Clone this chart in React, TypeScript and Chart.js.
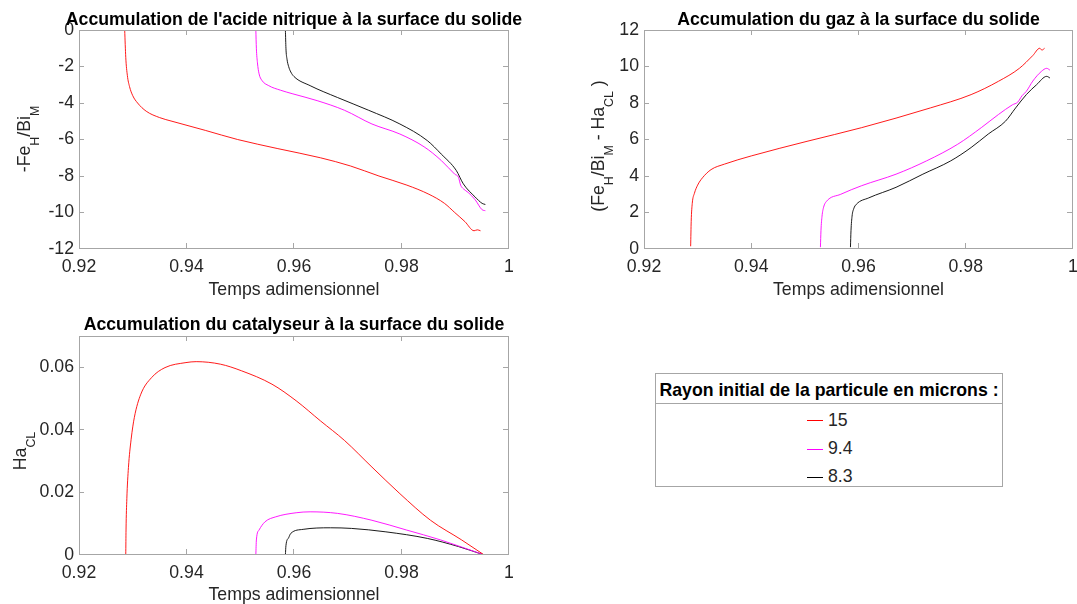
import React, { useEffect, useRef } from 'react';
import { Chart, registerables } from 'chart.js';

Chart.register(...registerables);

const FONT = '"Liberation Sans", Arial, Helvetica, sans-serif';
const FS = 17.7;
const SUB_FS = 12.4;
const SUB_SHIFT = 8.5;
const TEXT_COLOR = '#262626';
const BOX_COLOR = '#a6a6a6';
const TICK_LEN = 5;

// ---- series identity ----
const seriesLabels = ['15', '9.4', '8.3'];
const seriesColors = ['#ff0000', '#ff00ff', '#000000'];
const legendTitle = 'Rayon initial de la particule en microns :';

// ---- tick labels ----
const timeTicks = [0.92, 0.94, 0.96, 0.98, 1];
const acidTicks = [-12, -10, -8, -6, -4, -2, 0];
const gasTicks = [0, 2, 4, 6, 8, 10, 12];
const catTicks = [0, 0.02, 0.04, 0.06];

// ---- acid (-Fe_H/Bi_M) ----
const acidT15 = [0.9285, 0.9287, 0.929, 0.9294, 0.93, 0.9309, 0.9325, 0.935, 0.9373, 0.9435, 0.9495, 0.957, 0.9649, 0.9705, 0.9758, 0.981, 0.9851, 0.988, 0.9899, 0.9918, 0.9935, 0.9941, 0.9947];
const acidY15 = [0, -1.5, -2.5, -3.1, -3.6, -4.0, -4.45, -4.8, -5.0, -5.5, -6.0, -6.5, -7.0, -7.45, -8.0, -8.5, -9.0, -9.5, -10.0, -10.5, -11.0, -10.95, -11.0];
const acidT94 = [0.9529, 0.953, 0.9532, 0.9535, 0.954, 0.9553, 0.9575, 0.9598, 0.9643, 0.9694, 0.9745, 0.9797, 0.9842, 0.9874, 0.9899, 0.9906, 0.991, 0.9915, 0.9924, 0.9937, 0.995, 0.9956];
const acidY94 = [0, -1.0, -1.8, -2.4, -2.75, -3.05, -3.3, -3.5, -3.87, -4.4, -5.15, -5.7, -6.4, -7.15, -7.9, -8.07, -8.5, -8.7, -8.9, -9.3, -9.85, -9.9];
const acidT83 = [0.9584, 0.9585, 0.9587, 0.959, 0.9594, 0.96, 0.963, 0.9681, 0.9739, 0.9797, 0.9848, 0.9874, 0.9902, 0.9915, 0.9937, 0.995, 0.9956];
const acidY83 = [0, -1.0, -1.6, -2.0, -2.3, -2.55, -3.05, -3.7, -4.4, -5.15, -6.06, -6.8, -7.7, -8.43, -9.15, -9.5, -9.56];

// ---- gas (Fe_H/Bi_M - Ha_CL) ----
const gasT15 = [0.9287, 0.9288, 0.929, 0.9294, 0.93, 0.9309, 0.9325, 0.935, 0.94, 0.9504, 0.9606, 0.9734, 0.981, 0.9861, 0.99, 0.9925, 0.9938, 0.9942, 0.9947];
const gasY15 = [0.15, 1.5, 2.5, 3.05, 3.5, 3.9, 4.35, 4.65, 5.1, 5.9, 6.65, 7.73, 8.46, 9.19, 9.9, 10.6, 11.0, 10.9, 11.0];
const gasT94 = [0.9529, 0.953, 0.9532, 0.9535, 0.954, 0.9567, 0.9606, 0.967, 0.9727, 0.9785, 0.9829, 0.9861, 0.9887, 0.9897, 0.9905, 0.9913, 0.9925, 0.9941, 0.9951, 0.9957];
const gasY94 = [0.1, 1.0, 1.8, 2.3, 2.6, 3.0, 3.47, 4.1, 4.83, 5.74, 6.65, 7.37, 7.9, 8.05, 8.4, 8.64, 9.2, 9.73, 9.9, 9.8];
const gasT83 = [0.9585, 0.9586, 0.9588, 0.9591, 0.9596, 0.9619, 0.967, 0.972, 0.9772, 0.981, 0.9842, 0.9874, 0.9893, 0.9913, 0.9932, 0.9951, 0.9957];
const gasY83 = [0.1, 1.0, 1.8, 2.2, 2.45, 2.8, 3.38, 4.1, 4.83, 5.56, 6.3, 7.0, 7.73, 8.46, 9.0, 9.46, 9.37];

// ---- catalyst (Ha_CL) ----
const catT15 = [0.9287, 0.92875, 0.9289, 0.9292, 0.9297, 0.9303, 0.9315, 0.9335, 0.936, 0.9399, 0.9418, 0.9463, 0.9502, 0.9559, 0.9604, 0.9649, 0.9694, 0.9745, 0.9797, 0.9854, 0.9912, 0.9954];
const catY15 = [0, 0.008, 0.018, 0.028, 0.037, 0.044, 0.0514, 0.0567, 0.0599, 0.0615, 0.0618, 0.061, 0.0589, 0.0546, 0.0493, 0.0429, 0.0366, 0.0281, 0.0196, 0.0111, 0.0048, 0];
const catT94 = [0.9529, 0.953, 0.9535, 0.9546, 0.9566, 0.9604, 0.963, 0.9681, 0.9745, 0.9809, 0.9873, 0.9954];
const catY94 = [0, 0.0048, 0.008, 0.0106, 0.0122, 0.0135, 0.0138, 0.0133, 0.0111, 0.008, 0.0048, 0];
const catT83 = [0.9584, 0.9585, 0.959, 0.9594, 0.9617, 0.9668, 0.9707, 0.9771, 0.9848, 0.9906, 0.9954];
const catY83 = [0, 0.003, 0.0055, 0.0069, 0.0082, 0.0087, 0.0085, 0.0074, 0.0053, 0.0027, 0];

type Seg = [string, number];

const fmt = (v: number) => String(parseFloat(Number(v).toFixed(3)));

const zip = (t: number[], y: number[]) => t.map((x, i) => ({ x, y: y[i] }));

function drawSegs(ctx: CanvasRenderingContext2D, segs: Seg[], xBase: number, yCenter: number) {
  ctx.save();
  ctx.translate(xBase, yCenter);
  ctx.rotate(-Math.PI / 2);
  ctx.textAlign = 'left';
  ctx.textBaseline = 'alphabetic';
  ctx.fillStyle = TEXT_COLOR;
  const font = (sub: number) => `${sub ? SUB_FS : FS}px ${FONT}`;
  let total = 0;
  for (const [s, sub] of segs) {
    ctx.font = font(sub);
    total += ctx.measureText(s).width;
  }
  let u = -total / 2;
  for (const [s, sub] of segs) {
    ctx.font = font(sub);
    ctx.fillText(s, u, sub ? SUB_SHIFT : 0);
    u += ctx.measureText(s).width;
  }
  ctx.restore();
}

const decor = {
  id: 'decor',
  afterDatasetsDraw(chart: any, _a: any, opts: any) {
    const ctx = chart.ctx as CanvasRenderingContext2D;
    const ca = chart.chartArea;
    const xs = chart.scales.x;
    const ys = chart.scales.y;
    ctx.save();
    ctx.strokeStyle = BOX_COLOR;
    ctx.lineWidth = 1;
    ctx.strokeRect(ca.left + 0.5, ca.top + 0.5, ca.right - ca.left - 1, ca.bottom - ca.top - 1);
    ctx.beginPath();
    const clampX = (p: number) => Math.min(Math.max(Math.floor(p) + 0.5, ca.left + 0.5), ca.right - 0.5);
    const clampY = (p: number) => Math.min(Math.max(Math.floor(p) + 0.5, ca.top + 0.5), ca.bottom - 0.5);
    for (const t of xs.ticks) {
      const px = clampX(xs.getPixelForValue(t.value));
      ctx.moveTo(px, ca.bottom - 1);
      ctx.lineTo(px, ca.bottom - 1 - TICK_LEN);
      ctx.moveTo(px, ca.top);
      ctx.lineTo(px, ca.top + TICK_LEN);
    }
    for (const t of ys.ticks) {
      const py = clampY(ys.getPixelForValue(t.value));
      ctx.moveTo(ca.left, py);
      ctx.lineTo(ca.left + TICK_LEN, py);
      ctx.moveTo(ca.right - 1, py);
      ctx.lineTo(ca.right - 1 - TICK_LEN, py);
    }
    ctx.stroke();

    ctx.textAlign = 'center';
    ctx.textBaseline = 'alphabetic';
    ctx.fillStyle = '#000000';
    ctx.font = `bold ${FS}px ${FONT}`;
    ctx.fillText(opts.title, (ca.left + ca.right) / 2, opts.titleY);
    ctx.fillStyle = TEXT_COLOR;
    ctx.font = `${FS}px ${FONT}`;
    ctx.fillText(opts.xLabel, (ca.left + ca.right) / 2, opts.xLabelY);
    ctx.restore();
    drawSegs(ctx, opts.yLabel, opts.yLabelX, opts.yLabelY);
  },
};

interface PanelSpec {
  left: number;
  top: number;
  width: number;
  height: number;
  area: { l: number; r: number; t: number; b: number };
  series: { t: number[]; y: number[] }[];
  yMin: number;
  yMax: number;
  yTicks: number[];
  title: string;
  titleY: number;
  xLabelY: number;
  yLabel: Seg[];
  yLabelX: number;
  yLabelY: number;
}

const panels: PanelSpec[] = [
  {
    left: 0, top: 0, width: 540, height: 300,
    area: { l: 79, r: 509, t: 30, b: 249 },
    series: [
      { t: acidT15, y: acidY15 },
      { t: acidT94, y: acidY94 },
      { t: acidT83, y: acidY83 },
    ],
    yMin: -12, yMax: 0, yTicks: acidTicks,
    title: "Accumulation de l'acide nitrique à la surface du solide",
    titleY: 25, xLabelY: 295,
    yLabel: [['-Fe', 0], ['H', 1], ['/Bi', 0], ['M', 1]],
    yLabelX: 30, yLabelY: 139,
  },
  {
    left: 540, top: 0, width: 537, height: 300,
    area: { l: 104, r: 533, t: 30, b: 249 },
    series: [
      { t: gasT15, y: gasY15 },
      { t: gasT94, y: gasY94 },
      { t: gasT83, y: gasY83 },
    ],
    yMin: 0, yMax: 12, yTicks: gasTicks,
    title: 'Accumulation du gaz à la surface du solide',
    titleY: 25, xLabelY: 295,
    yLabel: [['(Fe', 0], ['H', 1], ['/Bi', 0], ['M', 1], [' - Ha', 0], ['CL', 1], [' )', 0]],
    yLabelX: 64, yLabelY: 146,
  },
  {
    left: 0, top: 300, width: 540, height: 304,
    area: { l: 79, r: 509, t: 36, b: 255 },
    series: [
      { t: catT15, y: catY15 },
      { t: catT94, y: catY94 },
      { t: catT83, y: catY83 },
    ],
    yMin: 0, yMax: 0.07, yTicks: catTicks,
    title: 'Accumulation du catalyseur à la surface du solide',
    titleY: 30, xLabelY: 300,
    yLabel: [['Ha', 0], ['CL', 1]],
    yLabelX: 26, yLabelY: 151,
  },
];

function Panel({ spec }: { spec: PanelSpec }) {
  const ref = useRef<HTMLCanvasElement>(null);
  useEffect(() => {
    const canvas = ref.current;
    if (!canvas) return;
    const { area, width, height } = spec;
    const tickFont = { family: FONT, size: FS };
    const chart = new Chart(canvas, {
      type: 'scatter',
      data: {
        datasets: spec.series.map((s, i) => ({
          label: seriesLabels[i],
          data: zip(s.t, s.y),
          showLine: true,
          borderColor: seriesColors[i],
          backgroundColor: seriesColors[i],
          borderWidth: 0.9,
          pointRadius: 0,
          cubicInterpolationMode: 'monotone',
        })),
      },
      options: {
        responsive: false,
        animation: false,
        devicePixelRatio: 1,
        layout: { padding: { left: 0, top: area.t, right: width - area.r, bottom: 0 } },
        plugins: {
          legend: { display: false },
          tooltip: { enabled: false },
          title: { display: false },
          decor: {
            title: spec.title,
            titleY: spec.titleY,
            xLabel: 'Temps adimensionnel',
            xLabelY: spec.xLabelY,
            yLabel: spec.yLabel,
            yLabelX: spec.yLabelX,
            yLabelY: spec.yLabelY,
          },
        } as any,
        scales: {
          x: {
            type: 'linear',
            min: 0.92,
            max: 1,
            grid: { display: false, drawTicks: false },
            border: { display: false },
            ticks: {
              autoSkip: false,
              maxRotation: 0,
              padding: 7,
              font: tickFont,
              color: TEXT_COLOR,
              callback: (v: any) => fmt(v),
            },
            afterBuildTicks: (s: any) => {
              s.ticks = timeTicks.map((value) => ({ value }));
            },
            afterFit: (s: any) => {
              s.height = height - area.b;
              s.paddingLeft = 0;
              s.paddingRight = 0;
            },
          },
          y: {
            type: 'linear',
            min: spec.yMin,
            max: spec.yMax,
            grid: { display: false, drawTicks: false },
            border: { display: false },
            ticks: {
              autoSkip: false,
              padding: 5,
              font: tickFont,
              color: TEXT_COLOR,
              callback: (v: any) => fmt(v),
            },
            afterBuildTicks: (s: any) => {
              s.ticks = spec.yTicks.map((value) => ({ value }));
            },
            afterFit: (s: any) => {
              s.width = area.l;
              s.paddingTop = 0;
              s.paddingBottom = 0;
            },
          },
        },
      } as any,
      plugins: [decor],
    });
    return () => chart.destroy();
  }, [spec]);
  return (
    <canvas
      ref={ref}
      width={spec.width}
      height={spec.height}
      style={{ position: 'absolute', left: spec.left, top: spec.top, width: spec.width, height: spec.height }}
    />
  );
}

function Legend() {
  const lineTop = [46, 75, 103];
  const textTop = [37.5, 66, 94.3];
  return (
    <div
      style={{
        position: 'absolute',
        left: 655,
        top: 373,
        width: 348,
        height: 114,
        boxSizing: 'border-box',
        border: `1px solid ${BOX_COLOR}`,
        background: '#fff',
        fontFamily: FONT,
        fontSize: FS,
        lineHeight: `${FS}px`,
        color: TEXT_COLOR,
      }}
    >
      <div style={{ position: 'absolute', left: 0, right: 0, top: 8.3, textAlign: 'center', fontWeight: 'bold', color: '#000', whiteSpace: 'nowrap' }}>
        {legendTitle}
      </div>
      <div style={{ position: 'absolute', left: 0, right: 0, top: 29, height: 1, background: BOX_COLOR }} />
      {seriesLabels.map((lab, i) => (
        <React.Fragment key={lab}>
          <div style={{ position: 'absolute', left: 151, width: 16, top: lineTop[i], height: 1, background: seriesColors[i] }} />
          <div style={{ position: 'absolute', left: 172, top: textTop[i], whiteSpace: 'nowrap' }}>{lab}</div>
        </React.Fragment>
      ))}
    </div>
  );
}

export default function App() {
  return (
    <div style={{ position: 'fixed', left: 0, top: 0, width: 1077, height: 604, background: '#ffffff', overflow: 'hidden' }}>
      {panels.map((p, i) => (
        <Panel key={i} spec={p} />
      ))}
      <Legend />
    </div>
  );
}
